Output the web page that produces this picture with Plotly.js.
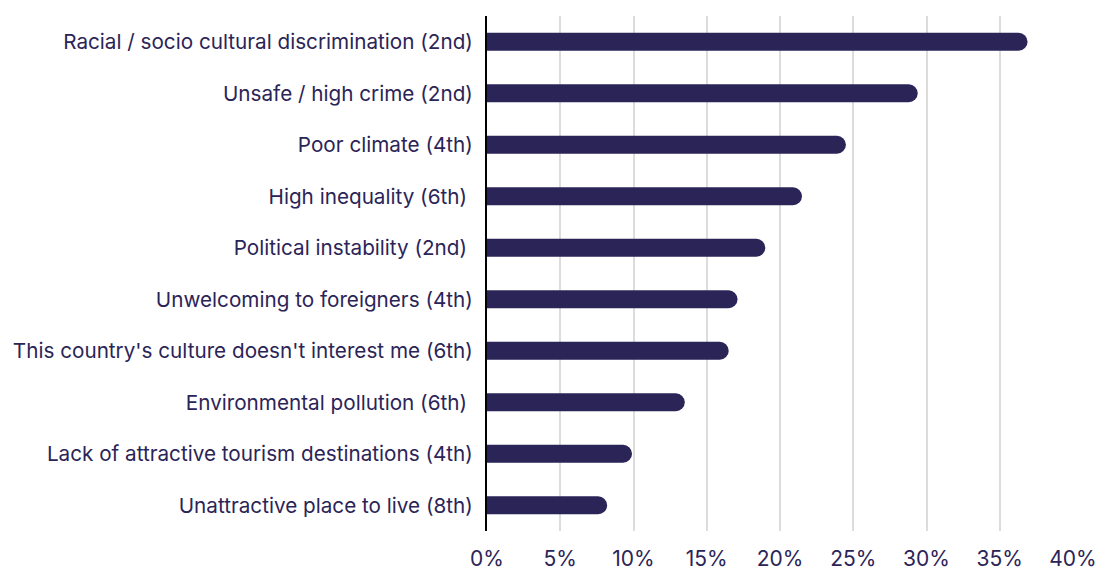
<!DOCTYPE html>
<html>
<head>
<meta charset="utf-8">
<script src="https://cdn.plot.ly/plotly-3.0.1.min.js"></script>
<style>html,body{margin:0;padding:0;background:#fff;}#chart{width:1104px;height:572px;}</style>
</head>
<body>
<div id="chart"></div>
<script>
const categories = [
  "Racial / socio cultural discrimination (2nd)",
  "Unsafe / high crime (2nd)",
  "Poor climate (4th)",
  "High inequality (6th)\u00a0",
  "Political instability (2nd)\u00a0",
  "Unwelcoming to foreigners (4th)",
  "This country's culture doesn't interest me (6th)",
  "Environmental pollution (6th)\u00a0",
  "Lack of attractive tourism destinations (4th)",
  "Unattractive place to live (8th)"
];
const values = [36.9, 29.4, 24.5, 21.5, 19.0, 17.1, 16.5, 13.5, 9.9, 8.2];
const tickVals = [0, 5, 10, 15, 20, 25, 30, 35, 40];
const tickText = ["0%", "5%", "10%", "15%", "20%", "25%", "30%", "35%", "40%"];

const navy = "#2b2457";
const fontFam = "Inter, 'Noto Sans', sans-serif";

Plotly.newPlot("chart", [{
  type: "bar",
  orientation: "h",
  x: values,
  y: categories,
  width: 0.35,
  marker: {color: navy, cornerradius: 9},
  hoverinfo: "none"
}], {
  width: 1104, height: 572,
  margin: {l: 487, r: 31, t: 16, b: 41, pad: 0},
  paper_bgcolor: "#fff", plot_bgcolor: "#fff",
  font: {family: fontFam, color: navy, size: 20.7},
  showlegend: false,
  xaxis: {
    range: [0, 40],
    tickvals: tickVals, ticktext: tickText,
    showgrid: true, gridcolor: "#dcdcdc", gridwidth: 2,
    zeroline: false, showline: false,
    ticks: "", ticklabelstandoff: 13,
    tickfont: {size: 21, color: navy, family: fontFam},
    fixedrange: true
  },
  yaxis: {
    autorange: "reversed",
    showline: true, linecolor: "#000", linewidth: 2,
    showgrid: false, zeroline: false,
    ticks: "", ticklabelstandoff: 8,
    tickfont: {size: 20.7, color: navy, family: fontFam},
    fixedrange: true
  }
}, {displayModeBar: false, staticPlot: true});
</script>
</body>
</html>
